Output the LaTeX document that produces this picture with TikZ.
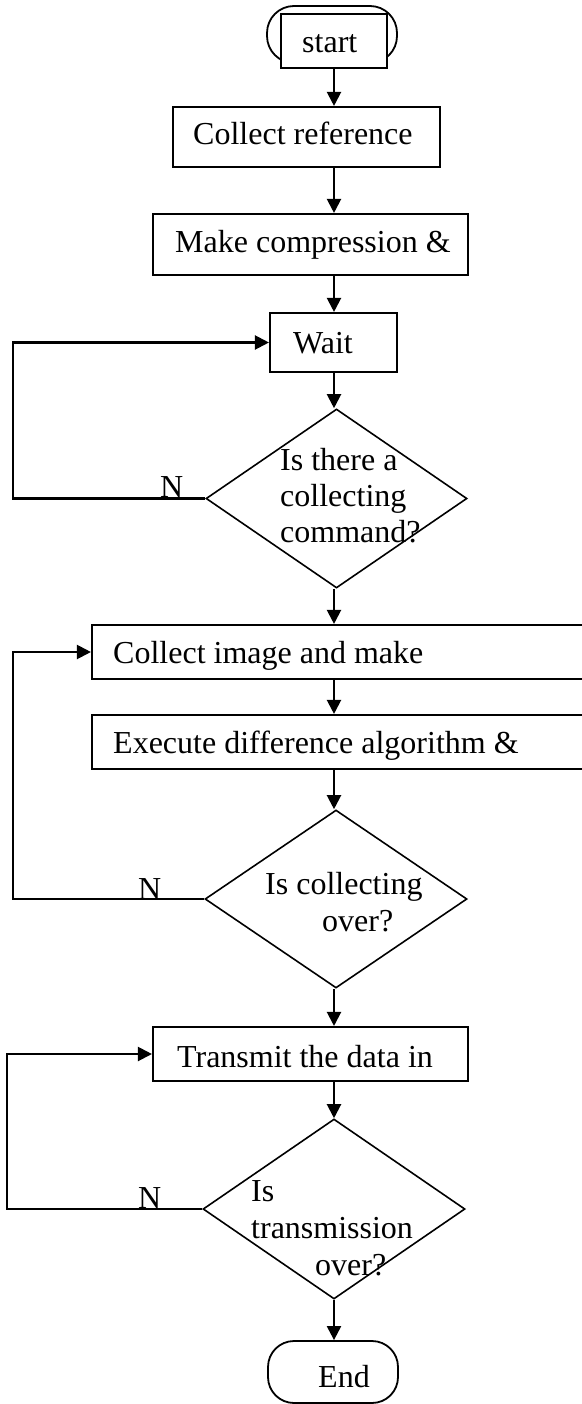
\documentclass[tikz,border=0pt]{standalone}
\usepackage{fontspec}
\setmainfont{Liberation Serif}
\usetikzlibrary{arrows.meta,shapes.geometric}
\begin{document}
\begin{tikzpicture}[x=1pt,y=-1pt,
  box/.style={draw,line width=2.1pt,rectangle,inner sep=0pt,minimum width=#1},
  dia/.style={draw,line width=1.6pt,diamond,inner sep=0pt},
  txt/.style={anchor=base west,inner sep=0pt,font=\fontsize{32}{36}\selectfont},
  arr/.style={line width=2.1pt,-{Triangle[length=14pt,width=14pt]}},
  loopline/.style={line width=2.1pt,-{Triangle[length=14pt,width=14pt]}}]
\useasboundingbox (0,0) rectangle (581,1404);
% start terminal
\node[draw,line width=1.8pt,rounded corners=27pt,minimum width=130pt,minimum height=57pt,inner sep=0pt] (startouter) at (332,34.5) {};
\node[draw,fill=white,line width=2.1pt,minimum width=106pt,minimum height=54pt,inner sep=0pt] (startinner) at (334,41) {};
\node[txt] (starttxt) at (302,53) {start};
% boxes
\node[box=267pt,minimum height=60pt] (ref) at (306.5,137) {};
\node[txt] (reftxt) at (193,145) {Collect reference};
\node[box=315pt,minimum height=61pt] (comp) at (310.5,244.5) {};
\node[txt] (comptxt) at (175,253) {Make compression \&};
\node[box=127pt,minimum height=59pt] (wait) at (333.5,342.5) {};
\node[txt] (waittxt) at (293,353) {Wait};
\node[dia,minimum width=261pt,minimum height=179pt] (d1) at (336.5,498.5) {};
\node[txt] (d1a) at (280,470) {Is there a};
\node[txt] (d1b) at (280,506) {collecting};
\node[txt] (d1c) at (280,542) {command?};
\node[box=508pt,minimum height=54pt] (col) at (346,652) {};
\node[txt] (coltxt) at (113,663) {Collect image and make};
\node[box=508pt,minimum height=54pt] (exe) at (346,742) {};
\node[txt] (exetxt) at (113,753) {Execute difference algorithm \&};
\node[dia,minimum width=262pt,minimum height=178pt] (d2) at (336,899) {};
\node[txt] (d2a) at (265,894) {Is collecting};
\node[txt] (d2b) at (322,931) {over?};
\node[box=315pt,minimum height=54pt] (tra) at (310.5,1054) {};
\node[txt] (tratxt) at (177,1067) {Transmit the data in};
\node[dia,minimum width=262pt,minimum height=180pt] (d3) at (334,1209) {};
\node[txt] (d3a) at (251,1201) {Is};
\node[txt] (d3b) at (251,1238) {transmission};
\node[txt] (d3c) at (315,1275) {over?};
\node[draw,line width=1.8pt,rounded corners=26pt,minimum width=130pt,minimum height=62pt,inner sep=0pt] (endn) at (333,1372) {};
\node[txt] (endtxt) at (318,1387) {End};
% main arrows
\draw[arr] (startinner.south) -- (startinner.south |- ref.north);
\draw[arr] (ref.south -| startinner.south) -- (comp.north -| startinner.south);
\draw[arr] (comp.south -| startinner.south) -- (wait.north -| startinner.south);
\draw[arr] (wait.south -| startinner.south) -- (d1.north -| startinner.south);
\draw[arr] (d1.south -| startinner.south) -- (col.north -| startinner.south);
\draw[arr] (col.south -| startinner.south) -- (exe.north -| startinner.south);
\draw[arr] (exe.south -| startinner.south) -- (d2.north -| startinner.south);
\draw[arr] (d2.south -| startinner.south) -- (tra.north -| startinner.south);
\draw[arr] (tra.south -| startinner.south) -- (d3.north -| startinner.south);
\draw[arr] (d3.south -| startinner.south) -- (endn.north -| startinner.south);
% loops
\coordinate (l1) at (13,498.5);
\coordinate (l2) at (13,899);
\coordinate (l3) at (7,1209);
\draw[loopline] (d1.west) -- (l1) |- (wait.west);
\draw[loopline] (d2.west) -- (l2) |- (col.west);
\draw[loopline] (d3.west) -- (l3) |- (tra.west);
\node[txt] (n1) at (160,497) {N};
\node[txt] (n2) at (138,899) {N};
\node[txt] (n3) at (138,1208) {N};
\end{tikzpicture}
\end{document}
